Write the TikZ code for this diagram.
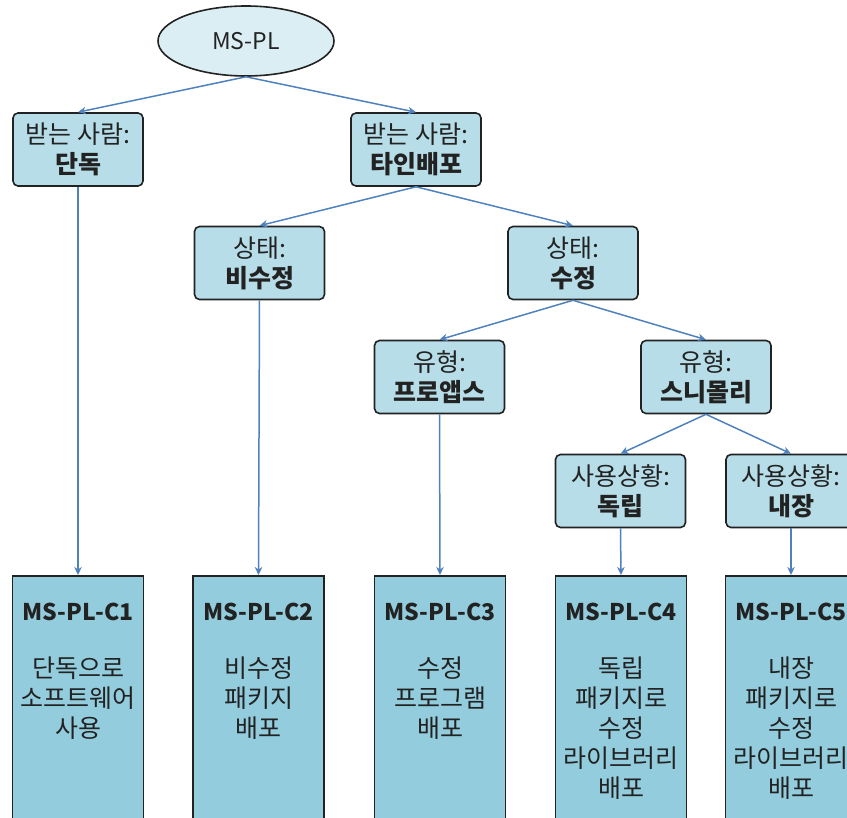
\documentclass[tikz,border=0pt]{standalone}
\usepackage{fontspec}
\setmainfont{Noto Sans CJK KR}
\usetikzlibrary{arrows.meta,shapes.geometric}
\definecolor{boxfill}{HTML}{B7DEE8}
\definecolor{leaffill}{HTML}{93CDDD}
\definecolor{ellfill}{HTML}{DBEEF4}
\definecolor{arrowcol}{HTML}{4F81BD}
\definecolor{edgecol}{HTML}{222222}
\definecolor{txt}{HTML}{222222}
\begin{document}
\begin{tikzpicture}[x=1pt,y=-1pt,
  decision/.style={draw=edgecol, line width=1.6pt, fill=boxfill, rounded corners=5pt,
    minimum width=130pt, minimum height=73pt, inner sep=0pt, align=center,
    font=\fontsize{25}{30}\selectfont, text=txt},
  leaf/.style={draw=edgecol, line width=1.6pt, fill=leaffill, minimum width=131pt,
    minimum height=270pt, anchor=north, inner sep=0pt},
  leaftext/.style={anchor=north, align=center, font=\fontsize{25}{30}\selectfont,
    text=txt, inner sep=0pt},
  titlefont/.style={font=\fontsize{23}{30}\selectfont\bfseries},
  link/.style={draw=arrowcol, line width=1.5pt, -{Stealth[length=8pt,width=7.5pt,inset=2.5pt]}},
]
\useasboundingbox (0,0) rectangle (847,818);
\clip (0,0) rectangle (847,818);

% root
\node[ellipse, draw=edgecol, line width=1.6pt, fill=ellfill, minimum width=176pt,
  minimum height=70pt, inner sep=0pt, font=\fontsize{23}{30}\selectfont, text=txt]
  (root) at (246,41) {MS-PL};

% decision boxes
\node[decision] (r1) at (78,149.5) {받는 사람:\\\textbf{단독}};
\node[decision] (r2) at (416,149.5) {받는 사람:\\\textbf{타인배포}};
\node[decision] (s1) at (259.5,263) {상태:\\\textbf{비수정}};
\node[decision] (s2) at (573,263) {상태:\\\textbf{수정}};
\node[decision] (t1) at (439.5,377) {유형:\\\textbf{프로앱스}};
\node[decision] (t2) at (706,377) {유형:\\\textbf{스니몰리}};
\node[decision] (u1) at (620.5,491) {사용상황:\\\textbf{독립}};
\node[decision] (u2) at (791,491) {사용상황:\\\textbf{내장}};

% leaves
\node[leaf] (c1) at (78,575) {};
\node[leaf] (c2) at (258.5,575) {};
\node[leaf] (c3) at (440,575) {};
\node[leaf] (c4) at (621,575) {};
\node[leaf] (c5) at (791,575) {};

\node[leaftext] (c1t) at (78,603) {{\fontsize{23}{30}\selectfont\bfseries MS-PL-C1}\\[27pt]단독으로\\소프트웨어\\사용};
\node[leaftext] (c2t) at (258.5,603) {{\fontsize{23}{30}\selectfont\bfseries MS-PL-C2}\\[27pt]비수정\\패키지\\배포};
\node[leaftext] (c3t) at (440,603) {{\fontsize{23}{30}\selectfont\bfseries MS-PL-C3}\\[27pt]수정\\프로그램\\배포};
\node[leaftext] (c4t) at (621,603) {{\fontsize{23}{30}\selectfont\bfseries MS-PL-C4}\\[27pt]독립\\패키지로\\수정\\라이브러리\\배포};
\node[leaftext] (c5t) at (791,603) {{\fontsize{23}{30}\selectfont\bfseries MS-PL-C5}\\[27pt]내장\\패키지로\\수정\\라이브러리\\배포};

% connectors
\draw[link] (root.south) -- (r1.north);
\draw[link] (root.south) -- (r2.north);
\draw[link] (r2.south) -- (s1.north);
\draw[link] (r2.south) -- (s2.north);
\draw[link] (s2.south) -- (t1.north);
\draw[link] (s2.south) -- (t2.north);
\draw[link] (t2.south) -- (u1.north);
\draw[link] (t2.south) -- (u2.north);
\draw[link] (r1.south) -- (c1.north);
\draw[link] (s1.south) -- (c2.north);
\draw[link] (t1.south) -- (c3.north);
\draw[link] (u1.south) -- (c4.north);
\draw[link] (u2.south) -- (c5.north);
\end{tikzpicture}
\end{document}
